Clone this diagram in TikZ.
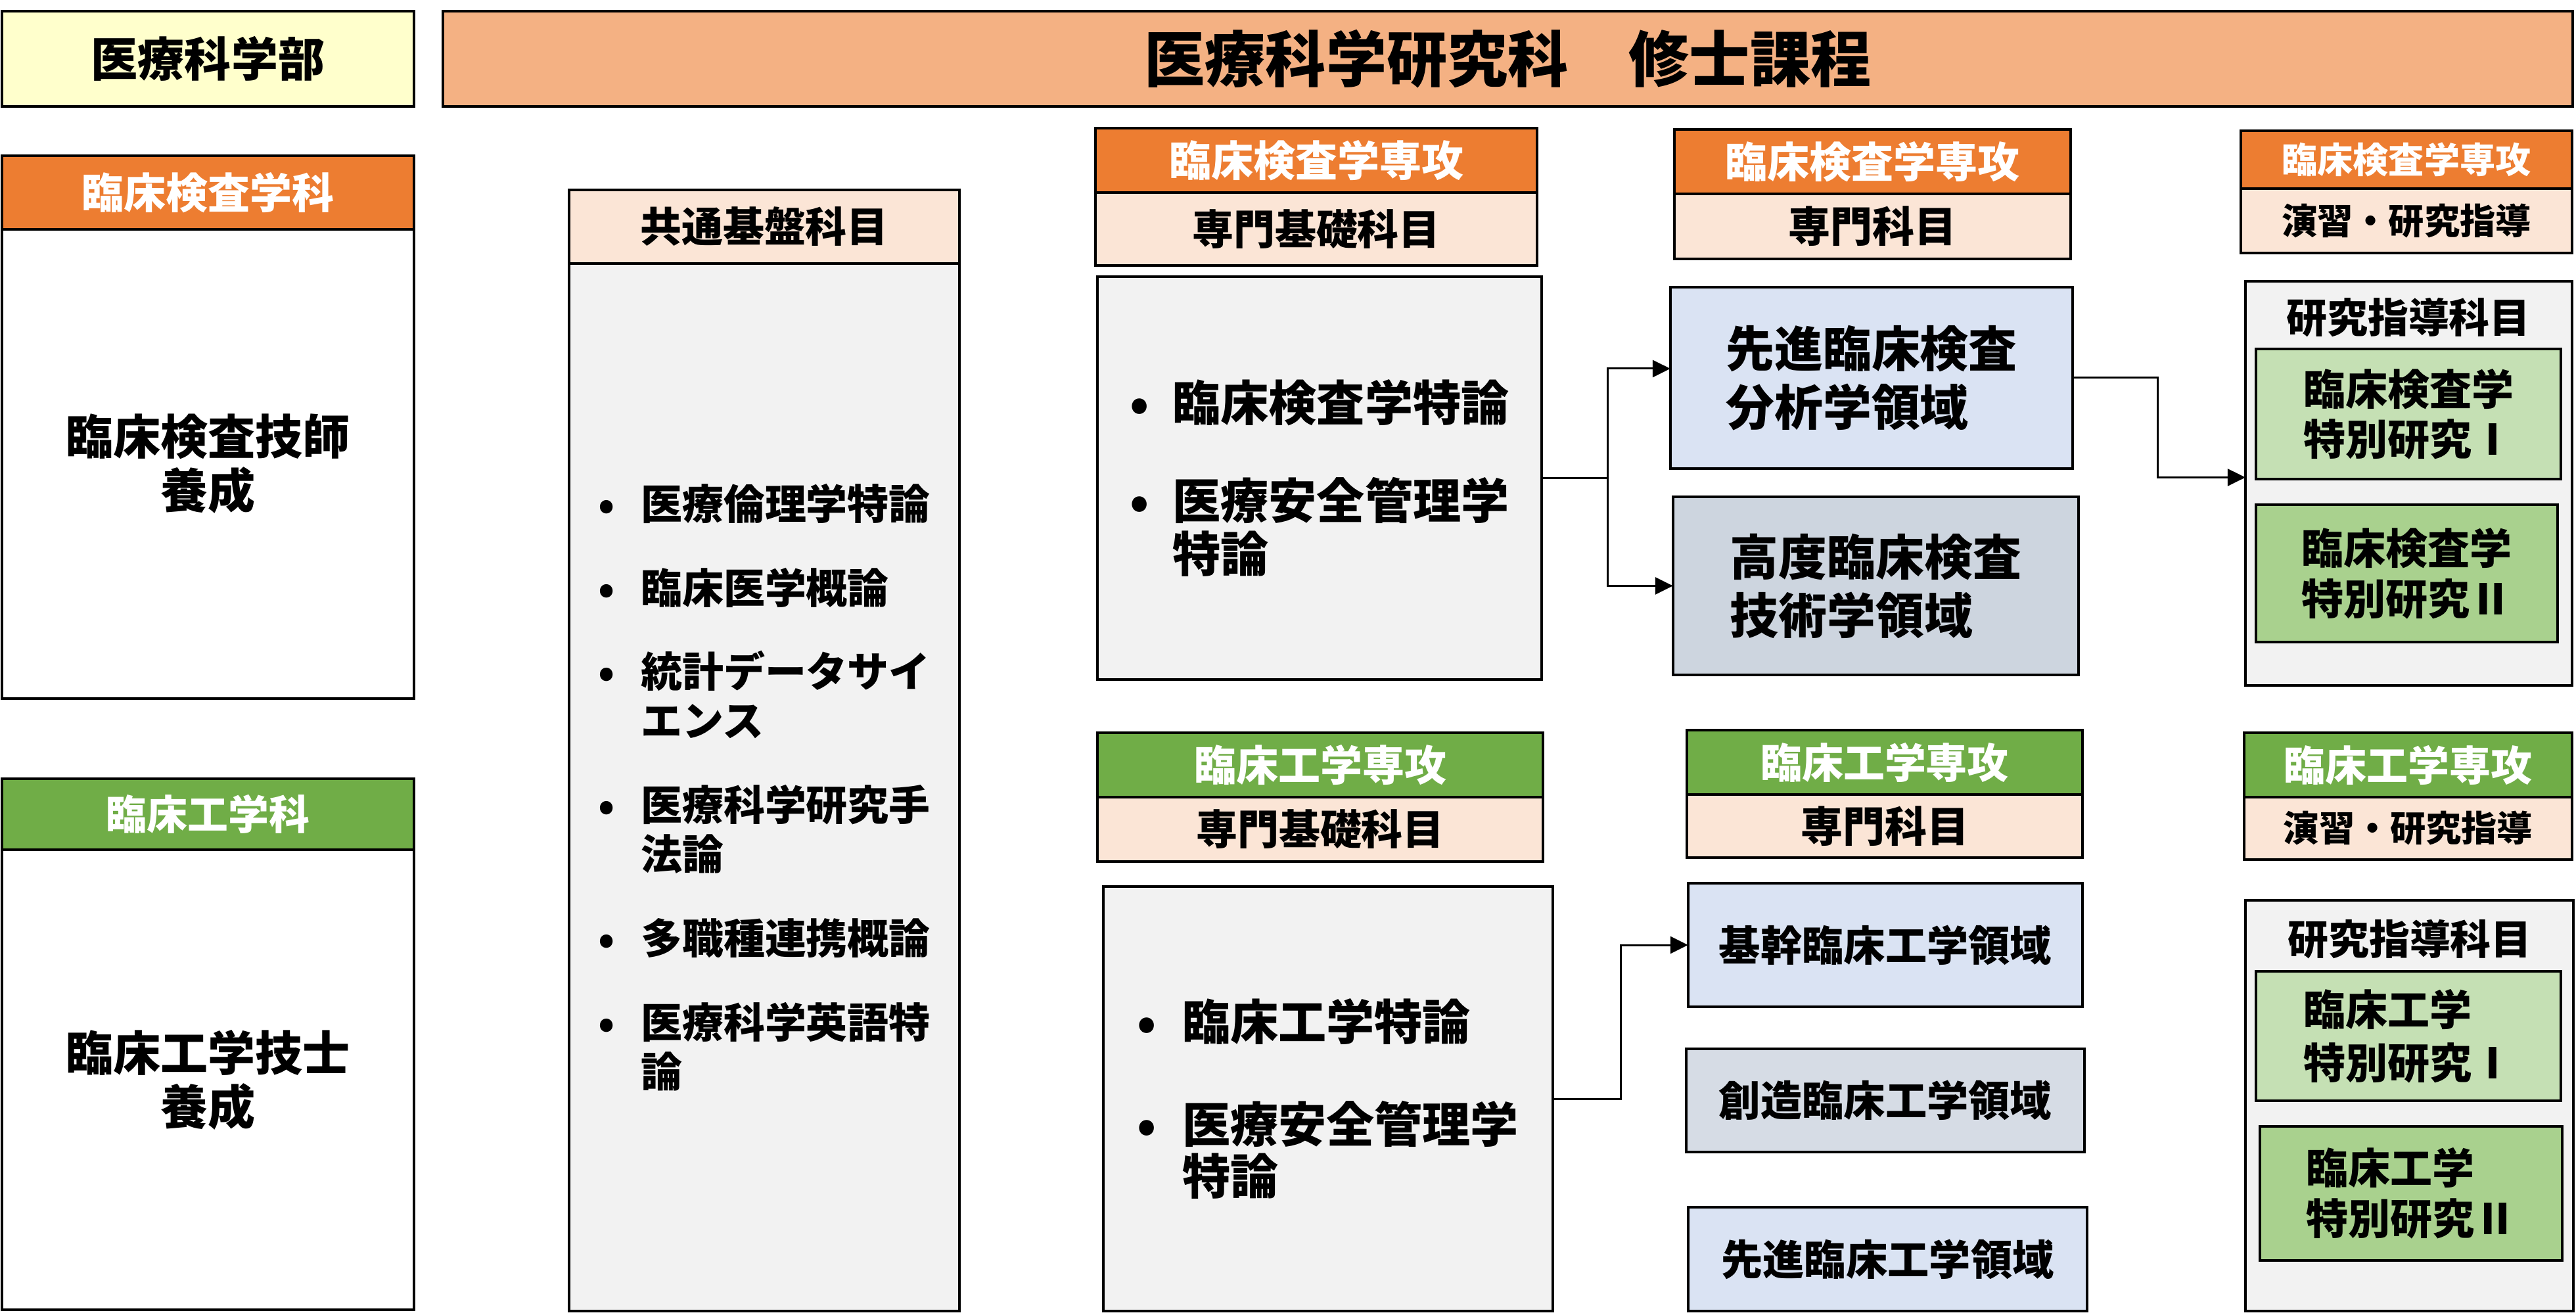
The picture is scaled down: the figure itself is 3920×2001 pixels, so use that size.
\documentclass[tikz,border=0pt]{standalone}
\usepackage{fontspec}
\setmainfont{Noto Sans CJK JP}
\usetikzlibrary{arrows.meta}

\definecolor{deptyellow}{HTML}{FFFFCC}
\definecolor{titleorange}{HTML}{F4B183}
\definecolor{kensaorange}{HTML}{ED7D31}
\definecolor{kogakugreen}{HTML}{70AD47}
\definecolor{subpink}{HTML}{FBE5D6}
\definecolor{bodygray}{HTML}{F2F2F2}
\definecolor{areablue}{HTML}{DAE3F3}
\definecolor{areagray}{HTML}{CDD5DF}
\definecolor{areagraylt}{HTML}{D6DCE5}
\definecolor{studyone}{HTML}{C5E0B4}
\definecolor{studytwo}{HTML}{A9D18E}

\newcommand{\fsz}[2]{\fontsize{#1}{#2}\selectfont\bfseries}
\newcommand{\blt}[1]{\makebox[#1][l]{•}}

\begin{document}
\begin{tikzpicture}[x=0.01cm, y=-0.01cm,
    box/.style={draw=black, line width=0.04cm, inner sep=0pt, outer sep=0pt},
    hdr/.style={box, text=white},
    arrow/.style={-{Triangle[length=0.27cm, width=0.26cm]}, line width=0.03cm}
]
    \useasboundingbox (0,0) rectangle (3920,2001);

    % === Top row ===
    \node[box, fill=deptyellow, minimum width=6.27cm, minimum height=1.45cm, font=\fsz{20.2pt}{24pt}] (dept) at (316.5,89.5) {医療科学部};
    \node[box, fill=titleorange, minimum width=32.39cm, minimum height=1.45cm, font=\fsz{26.2pt}{30pt}] (title) at (2294.5,89.5) {医療科学研究科　修士課程};

    % === Undergraduate departments ===
    \node[hdr, fill=kensaorange, minimum width=6.27cm, minimum height=1.12cm, font=\fsz{18.2pt}{22pt}] (kensahdr) at (316.5,293) {臨床検査学科};
    \node[box, fill=white, minimum width=6.27cm, minimum height=7.14cm, align=center, font=\fsz{20.5pt}{23.3pt}] (kensabody) at (316.5,706) {臨床検査技師\\養成};
    \node[hdr, fill=kogakugreen, minimum width=6.27cm, minimum height=1.08cm, font=\fsz{17.6pt}{22pt}] (kogakuhdr) at (316.5,1239) {臨床工学科};
    \node[box, fill=white, minimum width=6.27cm, minimum height=7.00cm, align=center, font=\fsz{20.5pt}{23.3pt}] (kogakubody) at (316.5,1643) {臨床工学技士\\養成};

    % === Common subjects ===
    \node[box, fill=subpink, minimum width=5.94cm, minimum height=1.12cm, font=\fsz{17.9pt}{22pt}] (commonhdr) at (1163,345) {共通基盤科目};
    \node[box, fill=bodygray, minimum width=5.94cm, minimum height=15.94cm, align=left, font=\fsz{17.9pt}{21.3pt}] (commonbody) at (1163,1198)
        {\blt{0.65cm}医療倫理学特論\\[0.53cm]
         \blt{0.65cm}臨床医学概論\\[0.53cm]
         \blt{0.65cm}統計データサイ\\\hspace*{0.65cm}エンス\\[0.53cm]
         \blt{0.65cm}医療科学研究手\\\hspace*{0.65cm}法論\\[0.53cm]
         \blt{0.65cm}多職種連携概論\\[0.53cm]
         \blt{0.65cm}医療科学英語特\\\hspace*{0.65cm}論};

    % === Clinical laboratory: basic subjects ===
    \node[hdr, fill=kensaorange, minimum width=6.72cm, minimum height=0.98cm, font=\fsz{18.2pt}{22pt}] (kbasehdr) at (2003,244) {臨床検査学専攻};
    \node[box, fill=subpink, minimum width=6.72cm, minimum height=1.11cm, font=\fsz{17.9pt}{22pt}] (kbasesub) at (2003,348.5) {専門基礎科目};
    \node[box, fill=bodygray, minimum width=6.76cm, minimum height=6.13cm, align=left, font=\fsz{20.8pt}{23pt}] (kbasebody) at (2008,727.5)
        {\blt{0.65cm}臨床検査学特論\\[0.68cm]
         \blt{0.65cm}医療安全管理学\\\hspace*{0.65cm}特論};

    % === Clinical laboratory: major subjects ===
    \node[hdr, fill=kensaorange, minimum width=6.03cm, minimum height=0.98cm, font=\fsz{18.2pt}{22pt}] (kmajhdr) at (2849.5,246) {臨床検査学専攻};
    \node[box, fill=subpink, minimum width=6.03cm, minimum height=0.99cm, font=\fsz{18.2pt}{22pt}] (kmajsub) at (2849.5,344.5) {専門科目};
    \node[box, fill=areablue, minimum width=6.12cm, minimum height=2.76cm, align=left, font=\fsz{21pt}{25.3pt}] (kadv) at (2848,575) {先進臨床検査\\分析学領域};
    \node[box, fill=areagray, minimum width=6.17cm, minimum height=2.71cm, align=left, font=\fsz{21pt}{25.3pt}] (khigh) at (2854.5,891.5) {高度臨床検査\\技術学領域};

    % === Clinical laboratory: research ===
    \node[hdr, fill=kensaorange, minimum width=5.04cm, minimum height=0.88cm, font=\fsz{15.4pt}{19pt}] (kreshdr) at (3662,243) {臨床検査学専攻};
    \node[box, fill=subpink, minimum width=5.04cm, minimum height=0.98cm, font=\fsz{15.4pt}{19pt}] (kressub) at (3662,336) {演習・研究指導};
    \node[box, fill=bodygray, minimum width=4.97cm, minimum height=6.15cm] (kresbox) at (3665.5,735.5) {};
    \node[font=\fsz{17.6pt}{21pt}] (kreslbl) at (3665,483) {研究指導科目};
    \node[box, fill=studyone, minimum width=4.64cm, minimum height=1.98cm, align=left, font=\fsz{18.2pt}{21.5pt}] (kstudy1) at (3665,630) {臨床検査学\\特別研究Ⅰ};
    \node[box, fill=studytwo, minimum width=4.59cm, minimum height=2.09cm, align=left, font=\fsz{18.2pt}{22pt}] (kstudy2) at (3662.5,872.5) {臨床検査学\\特別研究Ⅱ};

    % === Clinical engineering: basic subjects ===
    \node[hdr, fill=kogakugreen, minimum width=6.78cm, minimum height=0.98cm, font=\fsz{18.2pt}{22pt}] (ebasehdr) at (2009,1164) {臨床工学専攻};
    \node[box, fill=subpink, minimum width=6.78cm, minimum height=0.98cm, font=\fsz{17.9pt}{22pt}] (ebasesub) at (2009,1262) {専門基礎科目};
    \node[box, fill=bodygray, minimum width=6.84cm, minimum height=6.46cm, align=left, font=\fsz{20.8pt}{22.5pt}] (ebasebody) at (2021,1672)
        {\blt{0.68cm}臨床工学特論\\[0.77cm]
         \blt{0.68cm}医療安全管理学\\\hspace*{0.68cm}特論};

    % === Clinical engineering: major subjects ===
    \node[hdr, fill=kogakugreen, minimum width=6.02cm, minimum height=0.98cm, font=\fsz{17.9pt}{22pt}] (emajhdr) at (2868,1160) {臨床工学専攻};
    \node[box, fill=subpink, minimum width=6.02cm, minimum height=0.96cm, font=\fsz{18.2pt}{22pt}] (emajsub) at (2868,1257) {専門科目};
    \node[box, fill=areablue, minimum width=6.00cm, minimum height=1.88cm, font=\fsz{18pt}{22pt}] (ecore) at (2869,1438) {基幹臨床工学領域};
    \node[box, fill=areagraylt, minimum width=6.06cm, minimum height=1.57cm, font=\fsz{18pt}{22pt}] (ecreate) at (2869,1674.5) {創造臨床工学領域};
    \node[box, fill=areablue, minimum width=6.07cm, minimum height=1.58cm, font=\fsz{18pt}{22pt}] (eadv) at (2872.5,1916) {先進臨床工学領域};

    % === Clinical engineering: research ===
    \node[hdr, fill=kogakugreen, minimum width=4.99cm, minimum height=0.98cm, font=\fsz{17.9pt}{22pt}] (ereshdr) at (3664.5,1164) {臨床工学専攻};
    \node[box, fill=subpink, minimum width=4.99cm, minimum height=0.95cm, font=\fsz{15.4pt}{19pt}] (eressub) at (3664.5,1260.5) {演習・研究指導};
    \node[box, fill=bodygray, minimum width=4.99cm, minimum height=6.25cm] (eresbox) at (3666.5,1682.5) {};
    \node[font=\fsz{17.6pt}{21pt}] (ereslbl) at (3667,1429) {研究指導科目};
    \node[box, fill=studyone, minimum width=4.64cm, minimum height=1.97cm, align=left, font=\fsz{18.2pt}{23pt}] (estudy1) at (3665,1576.5) {臨床工学\\特別研究Ⅰ};
    \node[box, fill=studytwo, minimum width=4.60cm, minimum height=2.04cm, align=left, font=\fsz{18.2pt}{22pt}] (estudy2) at (3669,1816) {臨床工学\\特別研究Ⅱ};

    % === Connectors ===
    \draw[line width=0.03cm] (kbasebody.east) -- ++(100,0) coordinate (ksplit);
    \draw[arrow] (ksplit) |- ([yshift=0.14cm]kadv.west);
    \draw[arrow] (ksplit) |- (khigh.west);
    \draw[arrow] (kadv.east) -- ++(129,0) |- ([yshift=0.09cm]kresbox.west);
    \draw[arrow] (ebasebody.east) -- ++(103,0) |- (ecore.west);

\end{tikzpicture}
\end{document}
